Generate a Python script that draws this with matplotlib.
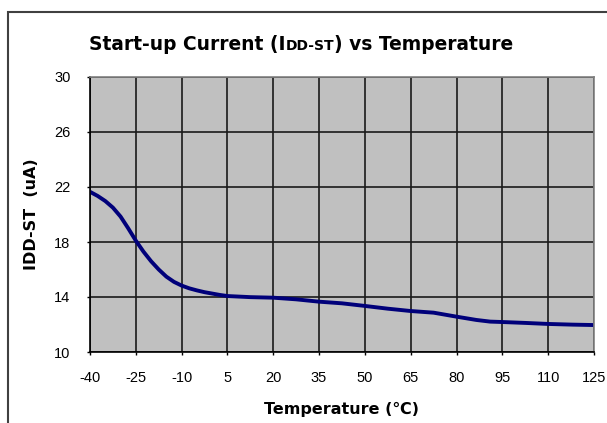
import matplotlib
matplotlib.use("Agg")
import matplotlib.pyplot as plt
import matplotlib.patches as patches

plt.rcParams['font.family'] = ['Liberation Sans', 'DejaVu Sans']
plt.rcParams['axes.unicode_minus'] = False

# data
temps = [-40, -37.5, -35, -32.5, -30, -27.5, -25, -22.5, -20, -17.5, -15, -12.5,
         -10, -7.5, -5, -2.5, 0, 2.5, 5, 12.5, 20, 27.5, 35, 42.5, 50, 57.5,
         65, 72.5, 80, 86.5, 91, 95, 103, 110, 118, 125]
idd_st = [21.65, 21.35, 20.98, 20.5, 19.85, 19.0, 18.1, 17.3, 16.6, 16.0, 15.48, 15.1,
          14.83, 14.63, 14.48, 14.35, 14.25, 14.15, 14.07, 13.99, 13.95, 13.83, 13.66,
          13.54, 13.35, 13.15, 12.98, 12.86, 12.57, 12.33, 12.21, 12.18, 12.11, 12.04,
          11.99, 11.96]
x_ticks = [-40, -25, -10, 5, 20, 35, 50, 65, 80, 95, 110, 125]
y_ticks = [10, 14, 18, 22, 26, 30]

W, H = 607, 423
fig = plt.figure(figsize=(W / 100, H / 100), dpi=100)
fig.patch.set_facecolor('white')

# outer chart border (runs off the right and bottom edges)
fig.add_artist(patches.Rectangle((8 / W, -0.05), 1.1, 1 - 12 / H + 0.05,
                                 transform=fig.transFigure, fill=False,
                                 edgecolor='#404040', linewidth=1.5))

ax = fig.add_axes([90 / W, 1 - 352 / H, (594 - 90) / W, (352 - 77) / H])
ax.set_facecolor('#c0c0c0')
ax.set_xlim(-40, 125)
ax.set_ylim(10, 30)
ax.set_xticks(x_ticks)
ax.set_yticks(y_ticks)
ax.grid(True, color='#1a1a1a', linewidth=1.2)
ax.set_axisbelow(True)
for side in ['top', 'right']:
    ax.spines[side].set_color('#808080')
    ax.spines[side].set_linewidth(1.2)
for side in ['left', 'bottom']:
    ax.spines[side].set_color('black')
    ax.spines[side].set_linewidth(1.2)
ax.tick_params(length=2, width=1, labelsize=10.5)
ax.tick_params(axis='x', pad=12)
ax.tick_params(axis='y', pad=12)

ax.plot(temps, idd_st, color='#00007a', linewidth=2.8, solid_capstyle='round',
        solid_joinstyle='round')

label_font = dict(fontsize=11.5, fontweight='bold', family='DejaVu Sans')
ax.set_xlabel('Temperature (\u2103)', labelpad=12, **label_font)
ax.set_ylabel('IDD-ST  (uA)', labelpad=11, **label_font)

# title with small caps part
title_y = 1 - 50 / H
parts = [('Start-up Current (I', 13.4), ('DD-ST', 10), (') vs Temperature', 13.4)]
texts = [fig.text(0, title_y, s, fontsize=fs, fontweight='bold', family='DejaVu Sans',
                  va='baseline')
         for s, fs in parts]
fig.canvas.draw()
r = fig.canvas.get_renderer()
widths = [t.get_window_extent(r).width for t in texts]
x = 89
for t, w in zip(texts, widths):
    t.set_x(x / W)
    x += w

fig.savefig('out.png', dpi=100)
